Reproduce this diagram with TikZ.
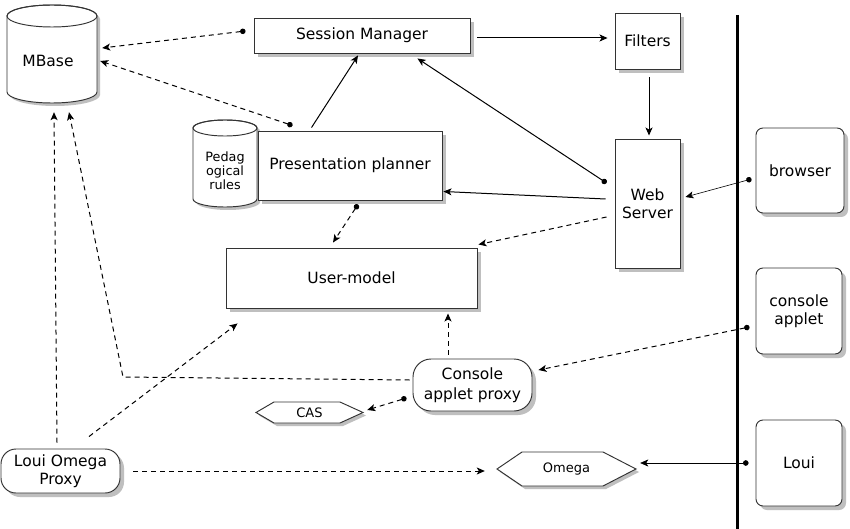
\documentclass[tikz,border=0pt]{standalone}
\usepackage{fontspec}
\setmainfont{DejaVu Sans}
\usetikzlibrary{arrows.meta,calc,shadows}
\begin{document}
\begin{tikzpicture}[x=1pt,y=-1pt,
  box/.style={draw=black!80, line width=0.95pt, fill=white, inner sep=0pt, align=center,
    font=\fontsize{15.5}{18}\selectfont,
    drop shadow={shadow xshift=4pt, shadow yshift=-4pt, fill=black!25, opacity=1}},
  plain/.style={inner sep=0pt, align=center, font=\fontsize{15.5}{18}\selectfont},
  small/.style={inner sep=0pt, align=center, font=\fontsize{13}{14}\selectfont},
  outline/.style={draw=black!80, line width=0.95pt, fill=white},
  shade/.style={fill=black!25},
  conn/.style={line width=1pt},
  dsh/.style={line width=1pt, dash pattern=on 5pt off 4pt},
  thinconn/.style={line width=0.6pt},
  arr/.style={-{Stealth[length=8pt,width=7pt,inset=2pt]}},
  dotarr/.style={{Circle[length=5.5pt]}-{Stealth[length=8pt,width=7pt,inset=2pt]}}
]
\useasboundingbox (0,0) rectangle (850,529);
\fill[white] (0,0) rectangle (850,529);

% ---------- MBase cylinder ----------
\fill[shade] (10,19) -- (10,95) arc[start angle=180,end angle=360,x radius=45pt,y radius=11pt]
  -- (100,19) arc[start angle=0,end angle=180,x radius=45pt,y radius=11pt] -- cycle;
\draw[outline] (7,16) -- (7,92) arc[start angle=180,end angle=360,x radius=45pt,y radius=11pt]
  -- (97,16) arc[start angle=0,end angle=180,x radius=45pt,y radius=11pt] -- cycle;
\draw[draw=black!80, line width=0.95pt] (52,16) ellipse[x radius=45pt,y radius=11pt];
\node[inner sep=0pt, minimum width=90pt, minimum height=98pt] (mbase) at (52,54) {};
\node[plain] (mbasetext) at (48,61) {MBase};

% ---------- Presentation planner with pedagogical rules ----------
\fill[shade] (196,131) -- (196,202) arc[start angle=180,end angle=360,x radius=32pt,y radius=8pt]
  -- (260,131) arc[start angle=0,end angle=180,x radius=32pt,y radius=8pt] -- cycle;
\node[box, minimum width=184pt, minimum height=69pt] (pp) at (350,165.5) {Presentation planner};
\draw[outline] (193,128) -- (193,199) arc[start angle=180,end angle=360,x radius=32pt,y radius=8pt]
  -- (257,128) arc[start angle=0,end angle=180,x radius=32pt,y radius=8pt] -- cycle;
\draw[draw=black!80, line width=0.95pt] (225,128) ellipse[x radius=32pt,y radius=8pt];
\node[inner sep=0pt, align=center, font=\fontsize{12.8}{13.8}\selectfont] (pedag) at (225,171) {Pedag\\ogical\\rules};

% ---------- boxes ----------
\node[box, minimum width=216pt, minimum height=35pt] (sm) at (362,35.5) {Session Manager};
\node[box, minimum width=65pt, minimum height=56pt] (filters) at (647.5,41) {Filters};
\node[box, minimum width=65pt, minimum height=129pt] (ws) at (647.5,203.5) {Web\\Server};
\node[box, minimum width=251pt, minimum height=60pt] (um) at (351.5,278) {User-model};
\node[box, rounded corners=18pt, minimum width=119pt, minimum height=52pt,
  font=\fontsize{15.5}{20}\selectfont] (cap) at (472.5,385) {Console\\applet proxy};
\node[box, rounded corners=15pt, minimum width=119pt, minimum height=44pt] (lop) at (60.5,471) {Loui Omega\\Proxy};
\node[box, rounded corners=7pt, minimum width=88pt, minimum height=85pt] (browser) at (800,170.5) {browser};
\node[box, rounded corners=7pt, minimum width=86pt, minimum height=86pt] (ca) at (799,311) {console\\applet};
\node[box, rounded corners=7pt, minimum width=86pt, minimum height=86pt] (loui) at (799,463) {Loui};

% ---------- hexagons ----------
\fill[shade] (259,415.5) -- (277,405) -- (343,405) -- (366,415.5) -- (343,426) -- (277,426) -- cycle;
\draw[outline] (256,412.5) -- (274,402) -- (340,402) -- (363,412.5) -- (340,423) -- (274,423) -- cycle;
\node[small, minimum width=107pt, minimum height=21pt] (cas) at (309.5,412.5) {CAS};
\fill[shade] (500,472) -- (525,455) -- (606,455) -- (639,472) -- (606,489) -- (525,489) -- cycle;
\draw[outline] (497,469) -- (522,452) -- (603,452) -- (636,469) -- (603,486) -- (522,486) -- cycle;
\node[small, minimum width=139pt, minimum height=34pt] (omega) at (566.5,469) {Omega};

% ---------- separator ----------
\coordinate (vtop) at (737,15);
\coordinate (vbot) at (737,529);
\draw[line width=3pt] (vtop) -- (vbot);

% ---------- connectors ----------
\draw[dsh, dotarr] ($(sm.west)+(-8,-4.5)$) -- ($(mbase.east)+(5,-6)$);
\draw[dsh, dotarr] ($(pp.north west)+(35,-5)$) -- ($(mbase.east)+(3,7)$);
\draw[conn, arr] ($(pp.north west)+(54,-3)$) -- ($(sm.south)+(-4,2)$);
\draw[conn, dotarr] ($(ws.west)+(-8,-20.5)$) -- ($(sm.south east)+(-53,5)$);
\draw[conn, arr] ($(sm.east)+(7,2.5)$) -- ($(filters.west)+(-7,-3)$);
\draw[conn, arr] ($(filters.south)+(1.5,8)$) -- ($(ws.north)+(1.5,-3)$);
\draw[conn, arr] ($(ws.west)+(-9,-4.5)$) -- ($(pp.east)+(1,26)$);
\draw[dsh, arr] ($(ws.west)+(-8,13.5)$) -- ($(um.north east)+(1,-3)$);
\draw[thinconn, dotarr] ($(browser.west)+(-4,8.5)$) -- ($(ws.east)+(5,-6.5)$);
\draw[dsh, dotarr] ($(pp.south)+(8,4)$) -- ($(um.north)+(-18.5,-5)$);
\draw[dsh, arr] ($(cap.north)+(-24.5,-4)$) -- ($(um.south)+(96.5,5)$);
\draw[dsh, dotarr] ($(ca.west)+(-6,16)$) -- ($(cap.east)+(6,-15)$);
\draw[dsh, dotarr] ($(cap.west)+(-6,13)$) -- ($(cas.east)+(4,-2.5)$);
\coordinate (bend) at (123,377);
\draw[dsh, arr] ($(cap.west)+(-3,-5)$) -- (bend) -- ($(mbase.south)+(17,9)$);
\draw[dsh, arr] ($(lop.north)+(-3.5,-6)$) -- ($(mbase.south)+(2,9)$);
\draw[dsh, arr] ($(lop.north)+(28.5,-12)$) -- ($(um.south west)+(12,15)$);
\draw[dsh, arr] ($(lop.east)+(13,0)$) -- ($(omega.west)+(-12,2)$);
\draw[thinconn, dotarr] ($(loui.west)+(-7,0)$) -- ($(omega.east)+(4,-6)$);
\end{tikzpicture}
\end{document}
